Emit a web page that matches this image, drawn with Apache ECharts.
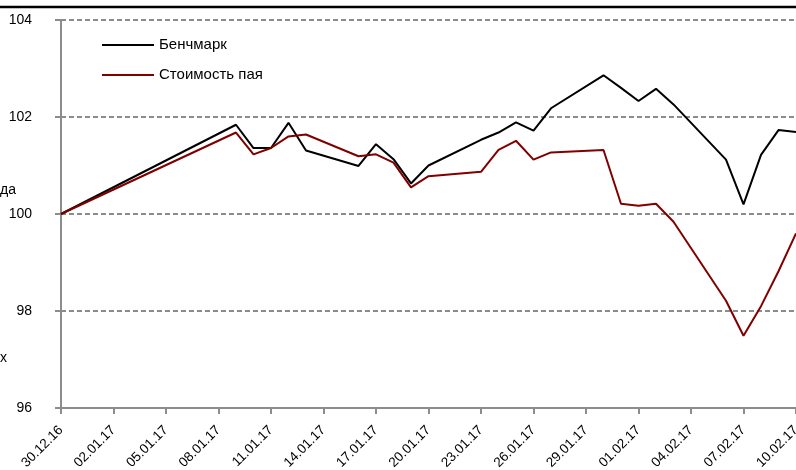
<!DOCTYPE html>
<html>
<head>
<meta charset="utf-8">
<script src="https://cdn.jsdelivr.net/npm/echarts@6/dist/echarts.min.js"></script>
<style>
html, body { margin: 0; padding: 0; background: #fff; }
#chart { width: 796px; height: 470px; }
</style>
</head>
<body>
<div id="chart"></div>
<script>
var dates = ['30.12.16', '09.01.17', '10.01.17', '11.01.17', '12.01.17', '13.01.17',
    '16.01.17', '17.01.17', '18.01.17', '19.01.17', '20.01.17', '23.01.17', '24.01.17',
    '25.01.17', '26.01.17', '27.01.17', '30.01.17', '31.01.17', '01.02.17', '02.02.17',
    '03.02.17', '06.02.17', '07.02.17', '08.02.17', '09.02.17', '10.02.17'];
var benchmark = [100, 101.84, 101.36, 101.36, 101.88, 101.31, 100.99, 101.44, 101.13, 100.63,
    101.0, 101.53, 101.68, 101.89, 101.72, 102.18, 102.86, 102.6, 102.33, 102.58, 102.26,
    101.12, 100.2, 101.22, 101.73, 101.69];
var unitPrice = [100, 101.68, 101.23, 101.36, 101.6, 101.64, 101.19, 101.23, 101.06, 100.55,
    100.78, 100.87, 101.32, 101.51, 101.12, 101.27, 101.32, 100.21, 100.17, 100.21, 99.84,
    98.21, 97.49, 98.1, 98.82, 99.6];
var seriesNames = ['Бенчмарк', 'Стоимость пая'];
var yTicks = [96, 98, 100, 102, 104];

var DAY = 86400000;
function parseDate(s) {
    var p = s.split('.');
    return Date.UTC(2000 + Number(p[2]), Number(p[1]) - 1, Number(p[0]));
}
var t0 = parseDate(dates[0]);
function dayOffset(s) {
    return Math.round((parseDate(s) - t0) / DAY);
}
function pad(n) { return (n < 10 ? '0' : '') + n; }
function dayLabel(v) {
    var d = new Date(t0 + v * DAY);
    return pad(d.getUTCDate()) + '.' + pad(d.getUTCMonth() + 1) + '.' + pad(d.getUTCFullYear() % 100);
}
function pairs(values) {
    var out = [];
    for (var i = 0; i < dates.length; i++) {
        out.push([dayOffset(dates[i]), values[i]]);
    }
    return out;
}

var chart = echarts.init(document.getElementById('chart'));
var option = {
    animation: false,
    textStyle: { fontFamily: 'Liberation Sans, Arial, sans-serif' },
    grid: { left: 61, top: 20, right: 0, bottom: 62, containLabel: false, outerBoundsMode: 'none' },
    legend: {
        orient: 'vertical',
        left: 97,
        top: 32,
        icon: 'rect',
        itemWidth: 52,
        itemHeight: 2,
        itemGap: 14,
        textStyle: { fontSize: 15, lineHeight: 16, color: '#000' },
        data: seriesNames
    },
    xAxis: {
        type: 'value',
        min: 0,
        max: dayOffset(dates[dates.length - 1]),
        interval: 3,
        splitLine: { show: false },
        axisLine: { lineStyle: { color: '#8c8c8c', width: 2 } },
        axisTick: { show: true, length: 6, lineStyle: { color: '#8c8c8c', width: 2 } },
        axisLabel: { rotate: 45, margin: 20, fontSize: 13.5, color: '#000', formatter: dayLabel }
    },
    yAxis: {
        type: 'value',
        min: yTicks[0],
        max: yTicks[yTicks.length - 1],
        interval: 2,
        axisLine: { show: true, lineStyle: { color: '#8c8c8c', width: 2 } },
        axisTick: { show: true, length: 6, lineStyle: { color: '#8c8c8c', width: 2 } },
        axisLabel: { margin: 29, fontSize: 14, color: '#000' },
        splitLine: { lineStyle: { color: '#8c8c8c', width: 2, type: [5, 3] } }
    },
    graphic: [
        { type: 'line', shape: { x1: 0, y1: 7, x2: 796, y2: 7 }, style: { stroke: '#000', lineWidth: 2.5 } },
        { type: 'text', left: 0, top: 183, style: { text: 'да', font: '14px Liberation Sans', fill: '#000' } },
        { type: 'text', left: 0, top: 351, style: { text: 'х', font: '14px Liberation Sans', fill: '#000' } }
    ],
    series: [
        {
            name: seriesNames[0],
            type: 'line',
            data: pairs(benchmark),
            showSymbol: false,
            color: '#000',
            lineStyle: { color: '#000', width: 2 }
        },
        {
            name: seriesNames[1],
            type: 'line',
            data: pairs(unitPrice),
            showSymbol: false,
            color: '#800000',
            lineStyle: { color: '#800000', width: 2 }
        }
    ]
};
chart.setOption(option, true);
</script>
</body>
</html>
